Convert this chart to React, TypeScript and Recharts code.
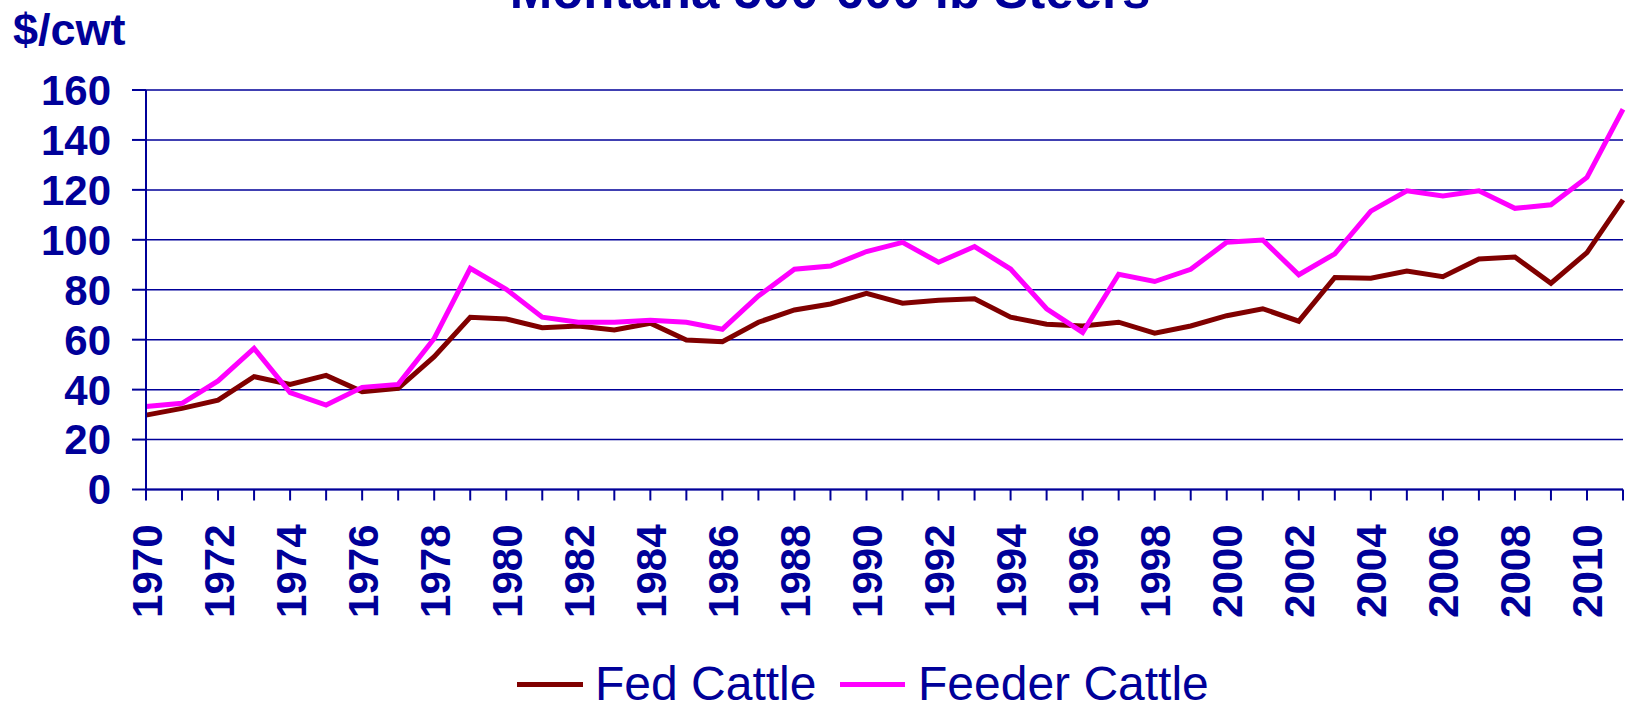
import React from 'react';
import { LineChart, Line, XAxis, YAxis, CartesianGrid, Legend, Customized } from 'recharts';

const years = [
  1970, 1971, 1972, 1973, 1974, 1975, 1976, 1977, 1978, 1979,
  1980, 1981, 1982, 1983, 1984, 1985, 1986, 1987, 1988, 1989,
  1990, 1991, 1992, 1993, 1994, 1995, 1996, 1997, 1998, 1999,
  2000, 2001, 2002, 2003, 2004, 2005, 2006, 2007, 2008, 2009,
  2010, 2011,
];

const fedCattle = [
  29.8, 32.5, 35.8, 45.2, 42.1, 45.7, 39.2, 40.5, 53.2, 69.0,
  68.3, 64.8, 65.5, 63.9, 66.6, 59.9, 59.2, 67.0, 71.9, 74.3,
  78.6, 74.6, 75.8, 76.4, 69.0, 66.2, 65.5, 67.0, 62.6, 65.5,
  69.6, 72.4, 67.4, 84.9, 84.6, 87.5, 85.2, 92.3, 93.1, 82.6,
  94.9, 116.0,
];

const feederCattle = [
  33.2, 34.5, 43.5, 56.5, 38.8, 33.8, 40.9, 42.1, 60.5, 88.6,
  80.2, 69.0, 67.0, 67.0, 67.8, 67.0, 64.2, 77.5, 88.2, 89.5,
  95.3, 99.0, 91.0, 97.3, 88.3, 72.4, 62.9, 86.2, 83.3, 88.2,
  99.0, 99.9, 86.0, 94.4, 111.5, 119.6, 117.6, 119.6, 112.6, 114.0,
  125.0, 152.3,
];

const yTicks = [0, 20, 40, 60, 80, 100, 120, 140, 160];

const NAVY = '#000099';
const FONT = '"Liberation Sans", Arial, sans-serif';

const data = years.map((year, i) => ({
  year,
  fed: fedCattle[i],
  feeder: feederCattle[i],
}));

// only every other year gets a label, but every year gets a tick line
const YearTick = (props: any) => {
  const { x, y, payload } = props;
  if (payload.value % 2 !== 0) return null;
  return (
    <text
      x={0}
      y={0}
      transform={`translate(${x + 15.5}, ${y + 24}) rotate(-90)`}
      textAnchor="end"
      fontSize={42}
      fontWeight="bold"
      fontFamily={FONT}
      fill={NAVY}
    >
      {payload.value}
    </text>
  );
};

const LegendContent = () => (
  <svg width={1626} height={60} style={{ display: 'block' }}>
    <line x1={517} x2={583} y1={39.5} y2={39.5} stroke="#800000" strokeWidth={5} />
    <text x={595} y={55} fontSize={48} fontFamily={FONT} fill={NAVY}>Fed Cattle</text>
    <line x1={840} x2={905} y1={39.5} y2={39.5} stroke="#FF00FF" strokeWidth={5} />
    <text x={918} y={55} fontSize={48} fontFamily={FONT} fill={NAVY}>Feeder Cattle</text>
  </svg>
);

const Titles = () => (
  <g fontFamily={FONT} fill={NAVY} fontWeight="bold">
    <text x={830} y={7.5} textAnchor="middle" fontSize={51}>Montana 500-600 lb Steers</text>
    <text x={13} y={45} fontSize={45}>$/cwt</text>
  </g>
);

const App = () => {
  return (
    <div style={{ position: 'absolute', left: 0, top: 0, background: '#fff' }}>
      <LineChart
        width={1626}
        height={705}
        data={data}
        margin={{ top: 90, right: 3, bottom: 0, left: 0 }}
      >
        <CartesianGrid vertical={false} stroke={NAVY} strokeWidth={1.5} />
        <XAxis
          dataKey="year"
          interval={0}
          tickSize={11}
          tickMargin={0}
          height={155.5}
          stroke={NAVY}
          strokeWidth={2}
          tick={<YearTick />}
        />
        <YAxis
          domain={[0, 160]}
          ticks={yTicks}
          interval={0}
          width={146}
          tickSize={14}
          tickMargin={21}
          stroke={NAVY}
          strokeWidth={2}
          tick={{ fontSize: 42, fontWeight: 'bold', fill: NAVY, fontFamily: FONT }}
        />
        <Legend verticalAlign="bottom" height={60} content={<LegendContent />} />
        <Line
          type="linear"
          dataKey="fed"
          stroke="#800000"
          strokeWidth={5}
          dot={false}
          isAnimationActive={false}
        />
        <Line
          type="linear"
          dataKey="feeder"
          stroke="#FF00FF"
          strokeWidth={5}
          dot={false}
          isAnimationActive={false}
        />
        <Customized component={Titles} />
      </LineChart>
    </div>
  );
};

export default App;
